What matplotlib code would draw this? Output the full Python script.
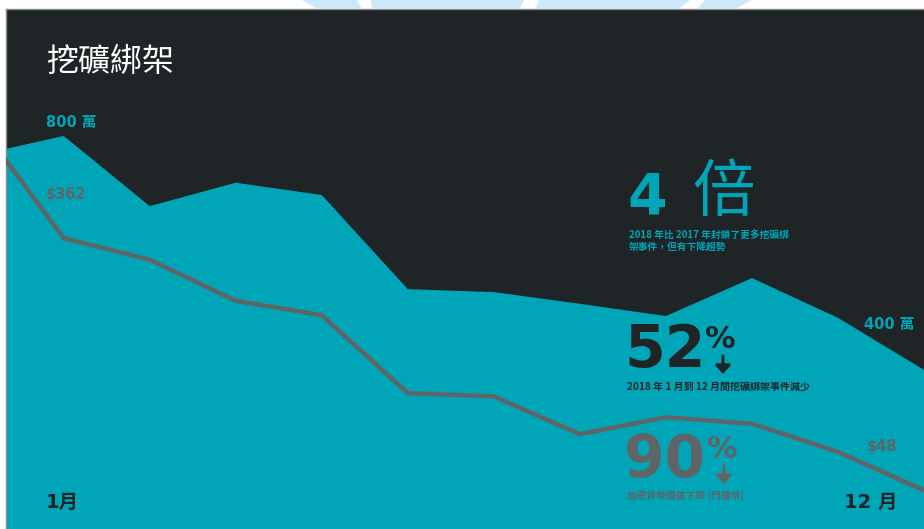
import matplotlib.pyplot as plt
from matplotlib.patches import Polygon, FancyArrowPatch
import numpy as np

plt.rcParams['font.family'] = ['Noto Sans CJK TC', 'DejaVu Sans']
NUM_FONT = ['DejaVu Sans', 'Noto Sans CJK TC']

# monthly series (index 0 sits just off the left edge of the panel)
months = np.arange(12)
attacks_wan = [767, 800, 680, 720, 699, 538, 533, 513, 492, 557, 489, 400]   # 萬
xmr_price = [506, 362, 335, 284, 266, 169, 165, 118, 139, 131, 96, 48]       # USD

W, H = 924, 529
DARK = "#1f2426"
TEAL = "#00a5b8"
GREY = "#5f6567"

fig = plt.figure(figsize=(W / 100, H / 100), dpi=100)
fig.patch.set_facecolor("white")


def px(x, y):
    return x / W, 1 - y / H


# light blue background shapes peeking out above the panel
strip = [
    [(302, 0), (357, 0), (362, 9), (318, 9)],
    [(371, 0), (524, 0), (520, 9), (372, 9)],
    [(539, 0), (690, 0), (679, 9), (535, 9)],
    [(705, 0), (752, 0), (735, 9), (697, 9)],
]
for poly in strip:
    fig.patches.append(Polygon([px(*p) for p in poly], closed=True, transform=fig.transFigure,
                               facecolor="#cce9fa", edgecolor="none", zorder=0))

ax = fig.add_axes([6 / W, 0, (W - 6) / W, (H - 9) / H])
ax.set_facecolor(DARK)
ax.fill_between(months, attacks_wan, -1000, color=TEAL, lw=0, zorder=1)
ax.set_xlim(0.33, 11)
ax.set_ylim(128, 1017)
for side in ["right", "bottom"]:
    ax.spines[side].set_visible(False)
for side in ["top", "left"]:
    ax.spines[side].set_color("#8a8c8c")
    ax.spines[side].set_linewidth(1.0)
ax.set_xticks([])
ax.set_yticks([])

ax2 = ax.twinx()
ax2.plot(months, xmr_price, color=GREY, lw=3.2, solid_joinstyle="miter", zorder=2)
ax2.set_ylim(0, 647)
ax2.axis("off")


def txt(x, y, s, **kw):
    fig.text(*px(x, y), s, **kw)


def down_arrow(x, y0, y1, color):
    fig.patches.append(FancyArrowPatch(px(x, y0), px(x, y1), transform=fig.transFigure,
                                       arrowstyle="-|>,head_length=5,head_width=4.5",
                                       mutation_scale=1, color=color, lw=2.2,
                                       shrinkA=0, shrinkB=0))


txt(46, 62, "挖礦綁架", color="white", fontsize=23, va="center", ha="left")
txt(46, 123, "800 萬", color=TEAL, fontsize=10.5, fontweight="bold", va="center", family=NUM_FONT)
txt(46, 195, "$362", color=GREY, fontsize=10.5, fontweight="bold", va="center", family=NUM_FONT)
txt(914, 325, "400 萬", color=TEAL, fontsize=10.5, fontweight="bold", va="center", ha="right",
    family=NUM_FONT)
txt(897, 446, "$48", color=GREY, fontsize=10.5, fontweight="bold", va="center", ha="right",
    family=NUM_FONT)
txt(46, 502, "1月", color=DARK, fontsize=14, fontweight="bold", va="center", family=NUM_FONT)
txt(898, 502, "12 月", color=DARK, fontsize=14, fontweight="bold", va="center", ha="right",
    family=NUM_FONT)

# 4 倍
txt(627, 199, "4", color=TEAL, fontsize=41, fontweight="bold", va="center", family=NUM_FONT)
txt(692, 193, "倍", color=TEAL, fontsize=45, va="center")
txt(629, 241, "2018 年比 2017 年封鎖了更多挖礦綁\n架事件，但有下降趨勢", color=TEAL,
    fontsize=7, fontweight="bold", va="center", linespacing=1.3)

# 52%
txt(624, 351, "52", color=DARK, fontsize=42, fontweight="bold", va="center", family=NUM_FONT)
txt(705, 339, "%", color=DARK, fontsize=22, fontweight="bold", va="center", family=NUM_FONT)
down_arrow(723, 356, 374, DARK)
txt(627, 387, "2018 年 1 月到 12 月間挖礦綁架事件減少", color=DARK, fontsize=7.2,
    fontweight="bold", va="center")

# 90%
txt(624, 461, "90", color=GREY, fontsize=42, fontweight="bold", va="center", family=NUM_FONT)
txt(707, 449, "%", color=GREY, fontsize=22, fontweight="bold", va="center", family=NUM_FONT)
down_arrow(724, 466, 484, GREY)
txt(627, 496, "加密貨幣價值下跌 (門羅幣)", color=GREY, fontsize=7, fontweight="bold", va="center")

fig.savefig("out.png", dpi=100, facecolor=fig.get_facecolor())
